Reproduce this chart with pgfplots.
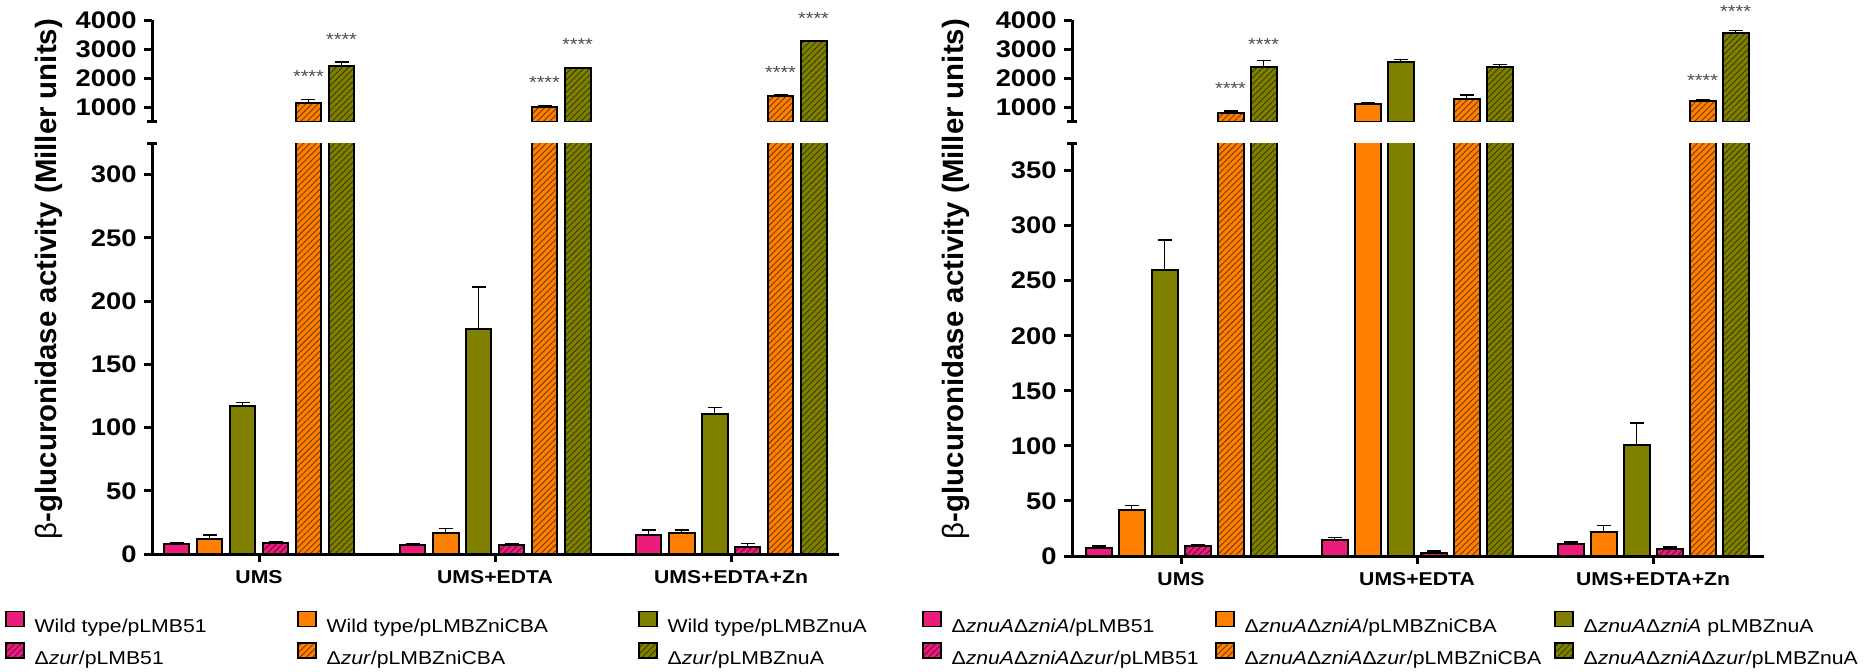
\documentclass[border=0pt]{standalone}
\usepackage{fontspec}
\setmainfont{Liberation Sans}[FakeStretch=1.14]
\newfontfamily\ylfont{Liberation Sans}
\usepackage{pgfplots}
\usepackage{pgfplotstable}
\pgfplotsset{compat=1.18}
\usetikzlibrary{patterns.meta}
\definecolor{pk}{RGB}{236,28,124}
\definecolor{or}{RGB}{255,128,0}
\definecolor{ol}{RGB}{128,128,0}
\tikzset{hatch/.style={postaction={pattern={Lines[angle=45,distance=2.2pt,line width=0.45pt]},pattern color=#1}},
  star/.style={font=\fontsize{8.7}{10}\selectfont, text=black!70, anchor=base, yshift=-5pt, inner sep=0pt}}
\pgfplotsset{
  brk/.style={scale only axis, enlargelimits=false, clip mode=individual,
    axis y line*=left, axis line style={-, line width=1.5pt},
    major tick style={line width=1.5pt, black}, major tick length=4pt, tick align=outside,
    yticklabel style={font=\bfseries\fontsize{12}{14}\selectfont, inner sep=0pt, xshift=-3.5pt},
    extra tick style={major tick length=5pt, tick align=center, major tick style={line width=1.5pt, black}},
    /pgf/number format/assume math mode=true, /pgf/number format/1000 sep={},
    every axis plot/.append style={ybar, bar width=0.110, bar shift=0pt, draw=black, line width=1pt,
       error bars/y dir=plus, error bars/y explicit,
       error bars/error bar style={line width=0.75pt, black},
       error bars/error mark=-,
       error bars/error mark options={rotate=90, line width=0.75pt, mark size=3.5pt, black}},
  },
  upper/.style={brk, height=50.75pt, ymin=500, ymax=4000, ytick={1000,2000,3000,4000},
    extra y ticks={500}, extra y tick labels={},
    axis x line=none, restrict y to domain=300:10000},
  lower/.style={brk, ymin=0, axis x line*=bottom, xtick={0,1,2},
    xticklabels={UMS,UMS+EDTA,UMS+EDTA+Zn},
    xticklabel style={font=\bfseries\fontsize{9.3}{11}\selectfont, inner sep=0pt, yshift=-4pt}},
  s1/.style={fill=pk},
  s2/.style={fill=or},
  s3/.style={fill=ol},
  s4/.style={fill=pk, hatch=pk!45!black},
  s5/.style={fill=or, hatch=or!45!black},
  s6/.style={fill=ol, hatch=ol!45!black},
  leg/.style={hide axis, scale only axis, width=1pt, height=1pt, xmin=0, xmax=1, ymin=0, ymax=1,
    anchor=south west,
    legend style={at={(0,0)}, anchor=north west, draw=none, fill=none, inner sep=0pt, outer sep=0pt,
      row sep=3pt, font=\fontsize{9.3}{11}\selectfont,
      nodes={inner sep=0pt, text height=8pt, text depth=2pt},
      /tikz/every odd column/.style={column sep=5pt}},
    legend cell align=left,
    legend image code/.code={\draw[##1, line width=0.8pt] (0pt,0pt) rectangle (9pt,7.5pt);}},
}
\pgfplotstableread{
x s1 e1 s2 e2 s3 e3 s4 e4 s5 e5 s6 e6
0 7.7 1.2 11.6 3.4 117 3 8.5 0.9 1140 125 2410 140
1 7.2 0.8 16.3 3.7 178 33 7.3 0.5 1000 45 2330 40
2 15 4 17 2 111 5 5.5 3 1370 40 3260 40
}\leftdata
\pgfplotstableread{
x s1 e1 s2 e2 s3 e3 s4 e4 s5 e5 s6 e6
0 7.5 1.8 42 4 260 27 9 1.3 800 70 2390 210
1 14.5 2.5 1090 45 2550 90 3 1.5 1270 150 2370 100
2 10.5 2 22 5.5 101 20 6.5 1.8 1210 25 3540 90
}\rightdata
\begin{document}
\begin{tikzpicture}
% ---------------- left panel ----------------
\begin{axis}[lower, at={(76pt,-277pt)}, anchor=south west, width=343.5pt, height=205.5pt,
  ymax=325, ytick={0,50,...,300}, extra y ticks={325}, extra y tick labels={},
  xmin=-0.4534, xmax=2.4576]
\addplot[s1] table[x expr=\thisrow{x}-0.3496,y=s1,y error=e1]{\leftdata};
\addplot[s2] table[x expr=\thisrow{x}-0.2097,y=s2,y error=e2]{\leftdata};
\addplot[s3] table[x expr=\thisrow{x}-0.0699,y=s3,y error=e3]{\leftdata};
\addplot[s4] table[x expr=\thisrow{x}+0.0699,y=s4,y error=e4]{\leftdata};
\addplot[s5] table[x expr=\thisrow{x}+0.2097,y=s5,y error=e5]{\leftdata};
\addplot[s6] table[x expr=\thisrow{x}+0.3496,y=s6,y error=e6]{\leftdata};
\end{axis}
\begin{axis}[upper, at={(76pt,-60.75pt)}, anchor=south west, width=343.5pt,
  xmin=-0.4534, xmax=2.4576]
\addplot[s5] table[x expr=\thisrow{x}+0.2097,y=s5,y error=e5]{\leftdata};
\addplot[s6] table[x expr=\thisrow{x}+0.3496,y=s6,y error=e6]{\leftdata};
\node[star] at (axis cs:0.2097,2207) {****};
\node[star] at (axis cs:0.3496,3450) {****};
\node[star] at (axis cs:1.2097,1980) {****};
\node[star] at (axis cs:1.3496,3280) {****};
\node[star] at (axis cs:2.2097,2330) {****};
\node[star] at (axis cs:2.3496,4200) {****};
\end{axis}
% ---------------- right panel ----------------
\begin{axis}[lower, at={(536pt,-278pt)}, anchor=south west, width=346pt, height=206.5pt,
  ymax=375, ytick={0,50,...,350}, extra y ticks={375}, extra y tick labels={},
  xmin=-0.4619, xmax=2.470]
\addplot[s1] table[x expr=\thisrow{x}-0.3496,y=s1,y error=e1]{\rightdata};
\addplot[s2] table[x expr=\thisrow{x}-0.2097,y=s2,y error=e2]{\rightdata};
\addplot[s3] table[x expr=\thisrow{x}-0.0699,y=s3,y error=e3]{\rightdata};
\addplot[s4] table[x expr=\thisrow{x}+0.0699,y=s4,y error=e4]{\rightdata};
\addplot[s5] table[x expr=\thisrow{x}+0.2097,y=s5,y error=e5]{\rightdata};
\addplot[s6] table[x expr=\thisrow{x}+0.3496,y=s6,y error=e6]{\rightdata};
\end{axis}
\begin{axis}[upper, at={(536pt,-60.75pt)}, anchor=south west, width=346pt,
  xmin=-0.4619, xmax=2.470]
\addplot[s2] table[x expr=\thisrow{x}-0.2097,y=s2,y error=e2]{\rightdata};
\addplot[s3] table[x expr=\thisrow{x}-0.0699,y=s3,y error=e3]{\rightdata};
\addplot[s5] table[x expr=\thisrow{x}+0.2097,y=s5,y error=e5]{\rightdata};
\addplot[s6] table[x expr=\thisrow{x}+0.3496,y=s6,y error=e6]{\rightdata};
\node[star] at (axis cs:0.2097,1759) {****};
\node[star] at (axis cs:0.3496,3310) {****};
\node[star] at (axis cs:2.2097,2069) {****};
\node[star] at (axis cs:2.3496,4448) {****};
\end{axis}
% ---------------- y labels ----------------
\node[rotate=90, anchor=north, inner sep=0pt, font=\ylfont\bfseries\fontsize{14.7}{17}\selectfont]
  at (17.5pt,-139.5pt) {{\mdseries β}-glucuronidase activity (Miller units)};
\node[rotate=90, anchor=north, inner sep=0pt, font=\ylfont\bfseries\fontsize{14.7}{17}\selectfont]
  at (471pt,-139.5pt) {{\mdseries β}-glucuronidase activity (Miller units)};
% ---------------- legends ----------------
\begin{axis}[leg, at={(2.5pt,-305.3pt)}]
\addlegendimage{fill=pk}\addlegendentry{Wild type/pLMB51}
\addlegendimage{fill=pk, hatch=pk!45!black}\addlegendentry{Δ\textit{zur}/pLMB51}
\end{axis}
\begin{axis}[leg, at={(148.5pt,-305.3pt)}]
\addlegendimage{fill=or}\addlegendentry{Wild type/pLMBZniCBA}
\addlegendimage{fill=or, hatch=or!45!black}\addlegendentry{Δ\textit{zur}/pLMBZniCBA}
\end{axis}
\begin{axis}[leg, at={(319pt,-305.3pt)}]
\addlegendimage{fill=ol}\addlegendentry{Wild type/pLMBZnuA}
\addlegendimage{fill=ol, hatch=ol!45!black}\addlegendentry{Δ\textit{zur}/pLMBZnuA}
\end{axis}
\begin{axis}[leg, at={(461pt,-305.3pt)}]
\addlegendimage{fill=pk}\addlegendentry{Δ\textit{znuA}Δ\textit{zniA}/pLMB51}
\addlegendimage{fill=pk, hatch=pk!45!black}\addlegendentry{Δ\textit{znuA}Δ\textit{zniA}Δ\textit{zur}/pLMB51}
\end{axis}
\begin{axis}[leg, at={(607.5pt,-305.3pt)}]
\addlegendimage{fill=or}\addlegendentry{Δ\textit{znuA}Δ\textit{zniA}/pLMBZniCBA}
\addlegendimage{fill=or, hatch=or!45!black}\addlegendentry{Δ\textit{znuA}Δ\textit{zniA}Δ\textit{zur}/pLMBZniCBA}
\end{axis}
\begin{axis}[leg, at={(777pt,-305.3pt)}]
\addlegendimage{fill=ol}\addlegendentry{Δ\textit{znuA}Δ\textit{zniA} pLMBZnuA}
\addlegendimage{fill=ol, hatch=ol!45!black}\addlegendentry{Δ\textit{znuA}Δ\textit{zniA}Δ\textit{zur}/pLMBZnuA}
\end{axis}
\pgfresetboundingbox
\path[use as bounding box] (0pt,0pt) rectangle (935.5pt,-335.5pt);
\end{tikzpicture}
\end{document}
